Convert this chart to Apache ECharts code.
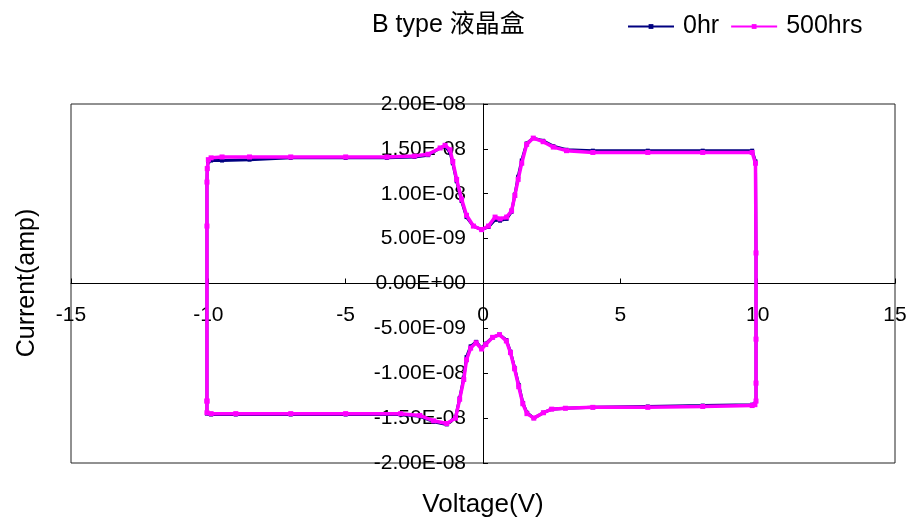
<!DOCTYPE html>
<html>
<head>
<meta charset="utf-8">
<script src="https://cdn.jsdelivr.net/npm/echarts@6/dist/echarts.min.js"></script>
<style>
  html, body { margin: 0; padding: 0; background: #fff; }
  #chart { width: 911px; height: 526px; }
</style>
</head>
<body>
<div id="chart"></div>
<script>
// Sweep voltage (V), shared by both measurements: up the left edge,
// forward sweep to +10 V, down the right edge, reverse sweep back to -10 V.
const voltage = [
  -10.05, -10.05, -10.05, -10.04, -10.0, -9.9, -9.5, -8.5, -7, -5,
  -3.5, -2.5, -2.0, -1.56, -1.38, -1.2, -1.1, -0.96, -0.78, -0.6,
  -0.35, -0.05, 0.2, 0.44, 0.62, 0.86, 1.04, 1.16, 1.28, 1.41,
  1.59, 1.83, 2.19, 2.56, 3.04, 4, 6, 8, 9.8, 9.92,
  9.94, 9.94, 9.94, 9.94, 9.9, 9.8, 8, 6, 4, 3,
  2.5, 2.2, 1.85, 1.6, 1.45, 1.3, 1.15, 1.0, 0.85, 0.6,
  0.35, 0.1, -0.05, -0.25, -0.45, -0.6, -0.7, -0.85, -1.0, -1.32,
  -1.8, -2.3, -3, -5, -7, -9, -9.9, -10.05, -10.05
];

// Current (amp) at 0 hr
const current0hr = [
  -1.31e-8, 6.4e-9, 1.13e-8, 1.28e-8, 1.36e-8, 1.37e-8, 1.37e-8, 1.38e-8, 1.40e-8, 1.40e-8,
  1.40e-8, 1.41e-8, 1.43e-8, 1.51e-8, 1.53e-8, 1.46e-8, 1.34e-8, 1.14e-8, 9.2e-9, 7.4e-9,
  6.4e-9, 6.0e-9, 6.3e-9, 7.1e-9, 7.0e-9, 7.2e-9, 8.0e-9, 9.9e-9, 1.19e-8, 1.37e-8,
  1.56e-8, 1.62e-8, 1.59e-8, 1.53e-8, 1.49e-8, 1.48e-8, 1.48e-8, 1.48e-8, 1.48e-8, 1.36e-8,
  3.4e-9, -6.2e-9, -1.11e-8, -1.31e-8, -1.34e-8, -1.35e-8, -1.36e-8, -1.37e-8, -1.38e-8, -1.39e-8,
  -1.40e-8, -1.44e-8, -1.50e-8, -1.44e-8, -1.33e-8, -1.13e-8, -9.4e-9, -7.6e-9, -6.3e-9, -5.7e-9,
  -6.0e-9, -6.7e-9, -7.2e-9, -6.5e-9, -7.0e-9, -8.2e-9, -1.05e-8, -1.28e-8, -1.49e-8, -1.57e-8,
  -1.54e-8, -1.48e-8, -1.46e-8, -1.46e-8, -1.46e-8, -1.46e-8, -1.46e-8, -1.45e-8, -1.31e-8
];

// Current (amp) after 500 hrs
const current500hrs = [
  -1.31e-8, 6.4e-9, 1.13e-8, 1.28e-8, 1.38e-8, 1.40e-8, 1.41e-8, 1.41e-8, 1.41e-8, 1.41e-8,
  1.41e-8, 1.42e-8, 1.44e-8, 1.51e-8, 1.54e-8, 1.49e-8, 1.36e-8, 1.16e-8, 9.4e-9, 7.6e-9,
  6.4e-9, 6.0e-9, 6.4e-9, 7.4e-9, 7.2e-9, 7.4e-9, 8.1e-9, 9.8e-9, 1.16e-8, 1.34e-8,
  1.55e-8, 1.62e-8, 1.58e-8, 1.52e-8, 1.48e-8, 1.46e-8, 1.46e-8, 1.46e-8, 1.46e-8, 1.34e-8,
  3.4e-9, -6.2e-9, -1.11e-8, -1.31e-8, -1.35e-8, -1.36e-8, -1.37e-8, -1.38e-8, -1.38e-8, -1.39e-8,
  -1.40e-8, -1.44e-8, -1.50e-8, -1.45e-8, -1.34e-8, -1.15e-8, -9.5e-9, -7.7e-9, -6.4e-9, -5.7e-9,
  -6.0e-9, -6.8e-9, -7.3e-9, -6.6e-9, -7.2e-9, -8.5e-9, -1.07e-8, -1.29e-8, -1.50e-8, -1.56e-8,
  -1.53e-8, -1.47e-8, -1.45e-8, -1.45e-8, -1.45e-8, -1.45e-8, -1.45e-8, -1.44e-8, -1.31e-8
];

const seriesNames = ['0hr', '500hrs'];
const seriesColors = ['#000080', '#ff00ff'];
const titleText = 'B type 液晶盒';
const xTitle = 'Voltage(V)';
const yTitle = 'Current(amp)';

const FONT = "'Liberation Sans', Arial, 'Noto Sans CJK TC', sans-serif";

// Plot box in pixels; the axes cross at the origin, in the middle of the box.
const GRID = { left: 71, right: 16, top: 104, bottom: 63 };
const PLOT_W = 911 - GRID.left - GRID.right;
const PLOT_H = 526 - GRID.top - GRID.bottom;

function pairs(xs, ys) {
  return xs.map((x, i) => [x, ys[i]]);
}

// Excel-style scientific label, e.g. 1.50E-08
function sci(v) {
  if (Math.abs(v) < 1e-15) return '0.00E+00';
  const parts = v.toExponential(2).split('e');
  const exp = parseInt(parts[1], 10);
  const sign = exp < 0 ? '-' : '+';
  const n = Math.abs(exp);
  return parts[0] + 'E' + sign + (n < 10 ? '0' + n : String(n));
}

const chart = echarts.init(document.getElementById('chart'), null, { renderer: 'canvas' });

chart.setOption({
  animation: false,
  backgroundColor: '#fff',
  textStyle: { fontFamily: FONT },
  title: {
    text: titleText,
    left: 372,
    top: 13,
    padding: 0,
    textStyle: { fontFamily: FONT, fontSize: 25, fontWeight: 'normal', color: '#000' }
  },
  legend: {
    data: seriesNames,
    left: 627,
    top: 14,
    padding: 0,
    itemWidth: 46,
    itemHeight: 6,
    itemGap: 11,
    textStyle: { fontFamily: FONT, fontSize: 25, color: '#000', padding: [0, 0, 0, 4] }
  },
  grid: {
    left: GRID.left,
    right: GRID.right,
    top: GRID.top,
    bottom: GRID.bottom,
    show: true,
    borderColor: '#222',
    borderWidth: 1,
    containLabel: false
  },
  xAxis: {
    type: 'value',
    min: -15,
    max: 15,
    interval: 5,
    position: 'bottom',
    offset: -PLOT_H / 2,
    axisLine: { onZero: false, lineStyle: { color: '#000', width: 1 } },
    axisTick: { show: true, inside: true, length: 5, lineStyle: { color: '#000' } },
    axisLabel: { color: '#000', fontSize: 21, fontFamily: FONT, margin: 21 },
    splitLine: { show: false }
  },
  yAxis: {
    type: 'value',
    min: -2e-8,
    max: 2e-8,
    interval: 5e-9,
    position: 'left',
    offset: -PLOT_W / 2,
    axisLine: { onZero: false, lineStyle: { color: '#000', width: 1 } },
    axisTick: { show: true, inside: true, length: 5, lineStyle: { color: '#000' } },
    axisLabel: { color: '#000', fontSize: 21, fontFamily: FONT, margin: 17, formatter: sci },
    splitLine: { show: false }
  },
  graphic: [
    {
      type: 'text',
      x: GRID.left + PLOT_W / 2,
      y: 505,
      style: { text: xTitle, font: '26px ' + FONT, fill: '#000', align: 'center', verticalAlign: 'middle' }
    },
    {
      type: 'text',
      x: 27,
      y: 283,
      rotation: Math.PI / 2,
      style: { text: yTitle, font: '25px ' + FONT, fill: '#000', align: 'center', verticalAlign: 'middle' }
    }
  ],
  series: [
    {
      name: seriesNames[0],
      type: 'line',
      data: pairs(voltage, current0hr),
      color: seriesColors[0],
      symbol: 'rect',
      symbolSize: 4,
      showSymbol: true,
      lineStyle: { width: 3, color: seriesColors[0] },
      itemStyle: { color: seriesColors[0] },
      z: 2
    },
    {
      name: seriesNames[1],
      type: 'line',
      data: pairs(voltage, current500hrs),
      color: seriesColors[1],
      symbol: 'rect',
      symbolSize: 5,
      showSymbol: true,
      lineStyle: { width: 3.5, color: seriesColors[1] },
      itemStyle: { color: seriesColors[1] },
      z: 3
    }
  ]
});
</script>
</body>
</html>
